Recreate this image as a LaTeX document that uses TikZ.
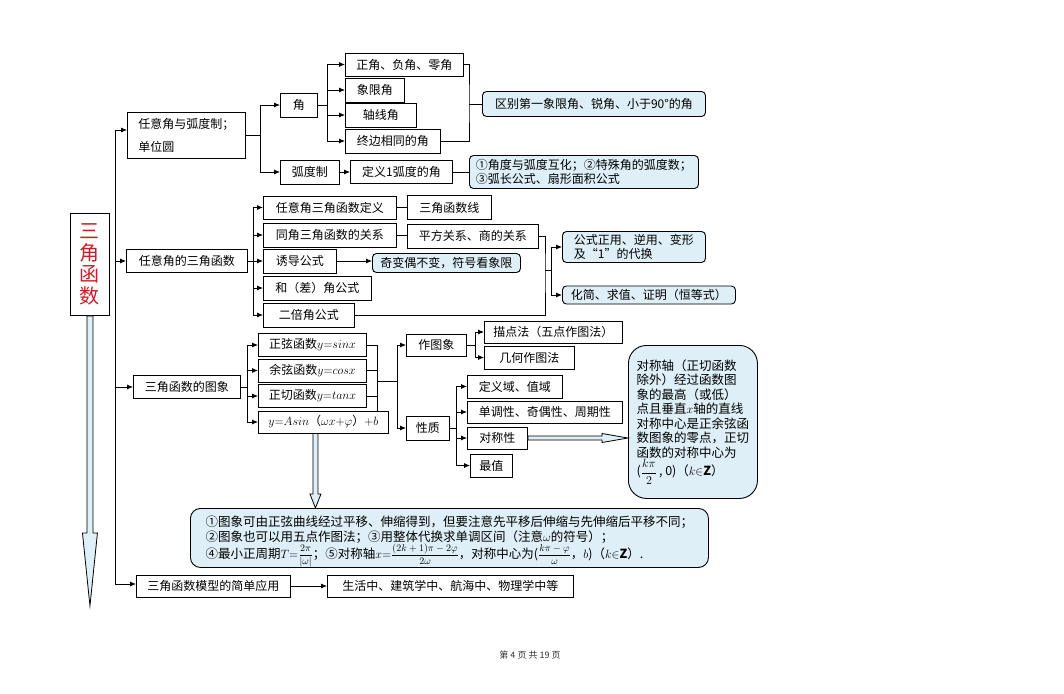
\documentclass[tikz,border=0pt]{standalone}
\usepackage{fontspec}
\setmainfont{Noto Sans CJK SC}
\usepackage{amsmath}
\usetikzlibrary{arrows.meta, positioning}
\definecolor{notefill}{RGB}{222,239,247}
\definecolor{titlered}{RGB}{200,30,40}
\tikzset{
box/.style={draw, line width=0.9pt, fill=white, inner sep=2pt, minimum height=23pt, anchor=west, font=\fontsize{12}{14}\selectfont},
note/.style={box, fill=notefill, rounded corners=4pt},
link/.style={line width=0.8pt},
arr/.style={link, -{Latex[length=6pt, width=5pt]}},
hollow/.style={draw, line width=0.8pt, fill=notefill}}
\newcommand{\fracsm}[2]{\smash{\fontsize{10}{10}\selectfont$\dfrac{#1}{#2}$}}

\begin{document}
\begin{tikzpicture}[x=1pt, y=-1pt]
\fill [white] (0,0) rectangle (1064,693);
\useasboundingbox (0,0) rectangle (1064,693);

% title and big arrow
\node [draw, line width=0.9pt, minimum width=39pt, minimum height=102pt, anchor=north west, align=center, text=titlered, font=\fontsize{20}{21.5}\selectfont] (title) at (70,213) {三\\角\\函\\数};
\coordinate (titletip) at ([yshift=-290pt]title.south);
\draw [hollow] ([xshift=-3pt]title.south) -- ([xshift=-3pt, yshift=73pt]titletip) -- ([xshift=-7.5pt, yshift=73pt]titletip) -- (titletip) -- ([xshift=7.5pt, yshift=73pt]titletip) -- ([xshift=3pt, yshift=73pt]titletip) -- ([xshift=3pt]title.south) -- cycle;

% level one
\node [box, minimum width=118pt, minimum height=46pt, align=left, font=\fontsize{12}{23}\selectfont] (a1) at (127,135) {任意角与弧度制；\\单位圆};
\node [box, minimum width=121pt] (a2) at (126,261) {任意角的三角函数};
\node [box, minimum width=107pt] (a3) at (133,387) {三角函数的图象};
\node [box, minimum width=154pt, minimum height=22pt] (a4) at (136,586) {三角函数模型的简单应用};
\coordinate (t1) at (115,130);
\coordinate (t2) at (115,584);
\draw [link] (t1) -- (t2);
\draw [arr] (t1) -- (t1 -| a1.west);
\draw [arr] (t1 |- a2.west) -- (a2.west);
\draw [arr] (t1 |- a3.west) -- (a3.west);
\draw [arr] (t2) -- (t2 -| a4.west);

% angle and radian
\node [box, minimum width=37pt, minimum height=24pt] (b1) at (280,105) {角};
\node [box, minimum width=59pt, minimum height=24pt] (b2) at (280,172) {弧度制};
\coordinate (j1) at (260,135);
\draw [link] (a1.east) -- (j1);
\draw [arr] (j1) |- (b1.west);
\draw [arr] (j1) |- (b2.west);
\node [box, minimum width=118pt] (c1) at (345,64.5) {正角、负角、零角};
\node [box, minimum width=59pt, minimum height=24pt] (c2) at (345,90) {象限角};
\node [box, minimum width=71pt, minimum height=24pt] (c3) at (345,115) {轴线角};
\node [box, minimum width=95pt, minimum height=24pt] (c4) at (345,141) {终边相同的角};
\coordinate (j2) at (327,105);
\draw [link] (b1.east) -- (j2);
\foreach \n in {c1,c2,c3,c4} \draw [arr] (j2) |- (\n.west);
\coordinate (k1) at (469,104);
\draw [link] (c1.east) -| (k1) |- (c4.east);
\node [note, minimum width=223pt, minimum height=25pt] (d1) at (482,104) {区别第一象限角、锐角、小于90°的角};
\draw [link] (k1) -- (d1.west);
\node [box, minimum width=102pt] (c5) at (350,172) {定义1弧度的角};
\draw [arr] (b2) -- (c5);
\node [note, minimum width=229pt, minimum height=33pt, align=left] (d2) at (469,172) {①角度与弧度互化；②特殊角的弧度数；\\③弧长公式、扇形面积公式};
\draw [link] (c5) -- (d2);

% trig functions of any angle
\coordinate (j3) at (253,261);
\draw [link] (a2.east) -- (j3);
\node [box, minimum width=133pt] (e1) at (263,207.5) {任意角三角函数定义};
\node [box, minimum width=133pt, minimum height=24pt] (e2) at (263,235) {同角三角函数的关系};
\node [box, minimum width=73pt, minimum height=24pt] (e3) at (263,261) {诱导公式};
\node [box, minimum width=108pt, minimum height=24pt] (e4) at (263,288) {和（差）角公式};
\node [box, minimum width=91pt, minimum height=24pt] (e5) at (263,315) {二倍角公式};
\foreach \n in {e1,e2,e3,e4,e5} \draw [arr] (j3) |- (\n.west);
\node [box, minimum width=84pt, minimum height=24pt] (f1) at (407,207.5) {三角函数线};
\node [box, minimum width=131pt, minimum height=24pt] (f2) at (407,236) {平方关系、商的关系};
\draw [link] (e1) -- (f1);
\draw [link] (e2.east) -- (e2.east -| f2.west);
\node [note, minimum width=148pt, minimum height=19pt] (f3) at (372,263) {奇变偶不变，符号看象限};
\draw [arr] (e3.east) -- (e3.east -| f3.west);
\coordinate (k2) at (545,270);
\draw [link] (f2.east) -| (k2) |- (e5.east);
\coordinate (j4) at (551,270);
\draw [link] (k2) -- (j4);
\node [note, minimum width=143pt, minimum height=31pt, align=left] (g1) at (562,247) {公式正用、逆用、变形\\及“1”的代换};
\node [note, minimum width=173pt, minimum height=18pt] (g2) at (562,295) {化简、求值、证明（恒等式）};
\draw [arr] (j4) |- (g1.west);
\draw [arr] (j4) |- (g2.west);

% graphs of trig functions
\coordinate (j5) at (247,387);
\draw [link] (a3.east) -- (j5);
\node [box, minimum width=108pt] (h1) at (258,345) {正弦函数$y{=}sinx$};
\node [box, minimum width=108pt] (h2) at (258,370.5) {余弦函数$y{=}cosx$};
\node [box, minimum width=108pt] (h3) at (258,396) {正切函数$y{=}tanx$};
\node [box, minimum width=130pt, minimum height=22pt] (h4) at (258,422) {$y{=}Asin$（$\omega x{+}\varphi$）$+b$};
\foreach \n in {h1,h2,h3,h4} \draw [arr] (j5) |- (\n.west);
\coordinate (k3) at (377,381);
\draw [link] (h1.east) -| (k3 |- h4.north);
\draw [link] (h2.east) -- (h2.east -| k3);
\draw [link] (h3.east) -- (h3.east -| k3);
\coordinate (j6) at (397,381);
\draw [link] (k3) -- (j6);
\node [box, minimum width=60pt, minimum height=22pt] (i1) at (406,345) {作图象};
\node [box, minimum width=43pt, minimum height=24pt] (i2) at (406,428) {性质};
\draw [arr] (j6) |- (i1.west);
\draw [arr] (j6) |- (i2.west);
\coordinate (j7) at (475,345);
\draw [link] (i1) -- (j7);
\node [box, minimum width=138pt, minimum height=22pt] (m1) at (484,332) {描点法（五点作图法）};
\node [box, minimum width=90pt] (m2) at (484,357.5) {几何作图法};
\draw [arr] (j7) |- (m1.west);
\draw [arr] (j7) |- (m2.west);
\coordinate (j8) at (456,428);
\draw [link] (i2) -- (j8);
\node [box, minimum width=95pt] (n1) at (467,386.5) {定义域、值域};
\node [box, minimum width=155pt, minimum height=22pt] (n2) at (467,412) {单调性、奇偶性、周期性};
\node [box, minimum width=60pt, minimum height=22pt] (n3) at (467,438) {对称性};
\node [box, minimum width=42pt] (n4) at (470,465.5) {最值};
\foreach \n in {n1,n2,n3,n4} \draw [arr] (j8) |- (\n.west);

% notes
\node [note, anchor=north west, minimum width=129pt, minimum height=153pt, rounded corners=18pt, align=left, font=\fontsize{12.5}{14.5}\selectfont] (p1) at (628,345) {对称轴（正切函数\\除外）经过函数图\\象的最高（或低）\\点且垂直$x$轴的直线\\对称中心是正余弦函\\数图象的零点，正切\\函数的对称中心为\\($\dfrac{k\pi}{2}$\,,\ 0)（$k{\in}\mathbf{Z}$）};
\coordinate (tipR) at (p1.west |- n3.east);
\draw [hollow] ([yshift=2pt]n3.east) -- ([xshift=-26pt, yshift=2pt]tipR) -- ([xshift=-26pt, yshift=4.5pt]tipR) -- (tipR) -- ([xshift=-26pt, yshift=-4.5pt]tipR) -- ([xshift=-26pt, yshift=-2pt]tipR) -- ([yshift=-2pt]n3.east) -- cycle;

\node [note, anchor=north west, minimum width=518pt, minimum height=59pt, rounded corners=10pt, align=left, font=\fontsize{12.5}{15}\selectfont] (q1) at (190,508) {①图象可由正弦曲线经过平移、伸缩得到，但要注意先平移后伸缩与先伸缩后平移不同；\\②图象也可以用五点作图法；③用整体代换求单调区间（注意$\omega$的符号）；\\[2pt]④最小正周期$T{=}$\fracsm{2\pi}{|\omega|}；⑤对称轴$x{=}$\fracsm{(2k+1)\pi-2\varphi}{2\omega}，对称中心为(\fracsm{k\pi-\varphi}{\omega}，$b$)（$k{\in}\mathbf{Z}$）.};
\coordinate (srcD) at ([xshift=-8pt]h4.south);
\coordinate (tipD) at (srcD |- q1.north);
\draw [hollow] ([xshift=-2.5pt]srcD) -- ([xshift=-2.5pt, yshift=14pt]tipD) -- ([xshift=-5.5pt, yshift=14pt]tipD) -- (tipD) -- ([xshift=5.5pt, yshift=14pt]tipD) -- ([xshift=2.5pt, yshift=14pt]tipD) -- ([xshift=2.5pt]srcD) -- cycle;

% application
\node [box, minimum width=246pt, minimum height=22pt] (a5) at (327,586) {生活中、建筑学中、航海中、物理学中等};
\draw [arr] (a4) -- (a5);

% footer
\node [font=\fontsize{9}{10}\selectfont, text=black!80] (footer) at (530,655) {第 4 页 共 19 页};
\end{tikzpicture}
\end{document}
